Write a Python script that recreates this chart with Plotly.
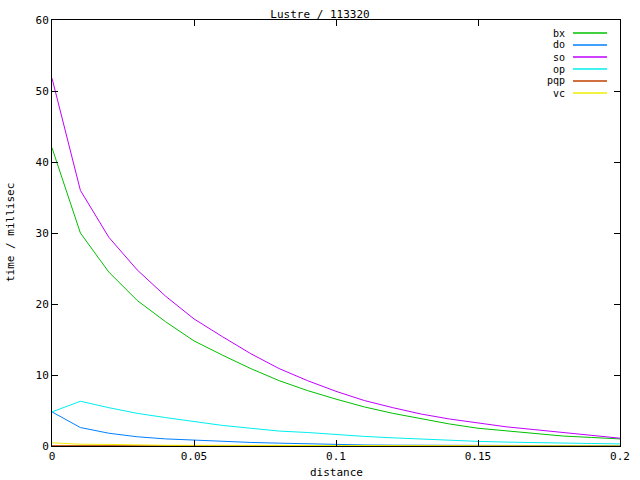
import plotly.graph_objects as go

distance = [0.00, 0.01, 0.02, 0.03, 0.04, 0.05, 0.06, 0.07, 0.08, 0.09, 0.10,
            0.11, 0.12, 0.13, 0.14, 0.15, 0.16, 0.17, 0.18, 0.19, 0.20]

bx = [42.0, 30.0, 24.5, 20.5, 17.5, 14.8, 12.8, 10.9, 9.2, 7.8, 6.6,
      5.5, 4.6, 3.8, 3.1, 2.5, 2.1, 1.7, 1.4, 1.2, 1.0]
do = [4.8, 2.6, 1.8, 1.3, 1.0, 0.8, 0.6, 0.5, 0.4, 0.3, 0.2,
      0.15, 0.12, 0.1, 0.1, 0.08, 0.06, 0.05, 0.05, 0.04, 0.04]
so = [51.8, 36.0, 29.4, 24.8, 21.1, 17.9, 15.4, 13.0, 10.9, 9.2, 7.7,
      6.4, 5.4, 4.5, 3.8, 3.2, 2.7, 2.3, 1.9, 1.5, 1.1]
op = [4.8, 6.3, 5.4, 4.6, 4.0, 3.4, 2.9, 2.5, 2.1, 1.9, 1.6,
      1.35, 1.15, 0.95, 0.8, 0.65, 0.55, 0.45, 0.4, 0.35, 0.3]
pqp = [0.05, 0.05, 0.05, 0.05, 0.05, 0.05, 0.05, 0.05, 0.05, 0.05, 0.05,
       0.05, 0.05, 0.05, 0.05, 0.0, 0.0, 0.0, 0.0, 0.0, 0.0]
vc = [0.45, 0.25, 0.22, 0.12, 0.1, 0.1, 0.1, 0.1, 0.1, 0.1, 0.1,
      0.1, 0.1, 0.1, 0.1, 0.0, 0.0, 0.0, 0.0, 0.0, 0.0]

names = ["bx", "do", "so", "op", "pqp", "vc"]
series = [bx, do, so, op, pqp, vc]
colors = ["#00c000", "#0080ff", "#c000ff", "#00eeee", "#c04000", "#eeee00"]

x_ticks = [0, 0.05, 0.1, 0.15, 0.2]
x_tick_text = ["0", "0.05", "0.1", "0.15", "0.2"]
y_ticks = [0, 10, 20, 30, 40, 50, 60]

FONT = "DejaVu Sans Mono"
L, R, T, B = 52, 20, 20, 34
PW, PH = 640 - L - R, 480 - T - B

fig = go.Figure()
for n, s, c in zip(names, series, colors):
    fig.add_trace(go.Scatter(x=distance, y=s, mode="lines", name=n,
                             line=dict(color=c, width=1), showlegend=False))

# gnuplot-style legend: right-aligned label, then a line sample
for i, (n, c) in enumerate(zip(names, colors)):
    yy = 1 - (13 + 12 * i) / PH
    fig.add_annotation(x=(567 - L) / PW, y=yy, xref="paper", yref="paper",
                       text=n, showarrow=False, xanchor="right", yanchor="middle",
                       height=11, font=dict(family=FONT, size=10, color="black"))
    fig.add_shape(type="line", xref="paper", yref="paper",
                  x0=(573 - L) / PW, x1=(607 - L) / PW, y0=yy, y1=yy,
                  line=dict(color=c, width=1.5))

# axis titles
fig.add_annotation(x=0.5, y=-(472 - T - PH) / PH, xref="paper", yref="paper",
                   text="distance", showarrow=False, xanchor="center", yanchor="middle",
                   font=dict(family=FONT, size=11, color="black"))
fig.add_annotation(x=-(L - 10) / PW, y=0.5, xref="paper", yref="paper",
                   text="time / millisec", showarrow=False, textangle=-90,
                   xanchor="center", yanchor="middle",
                   font=dict(family=FONT, size=11, color="black"))

axis_common = dict(showline=True, linecolor="black", linewidth=1, mirror="allticks",
                   ticks="inside", ticklen=6, tickcolor="black", tickwidth=1,
                   showgrid=False, zeroline=False, automargin=False,
                   tickfont=dict(family=FONT, size=11, color="black"))

fig.update_layout(
    width=640, height=480, autosize=False,
    margin=dict(l=L, r=R, t=T, b=B, autoexpand=False),
    paper_bgcolor="white", plot_bgcolor="white",
    title=dict(text="Lustre / 113320", x=0.5, xanchor="center", y=1 - 14 / 480.0,
               yanchor="middle", font=dict(family=FONT, size=11, color="black")),
    xaxis=dict(range=[0, 0.2], tickvals=x_ticks, ticktext=x_tick_text, **axis_common),
    yaxis=dict(range=[0, 60], tickvals=y_ticks, **axis_common),
)

fig.write_html("out.html", config={"displayModeBar": False},
               post_script="document.body.style.margin='0';document.body.style.overflow='hidden';")
